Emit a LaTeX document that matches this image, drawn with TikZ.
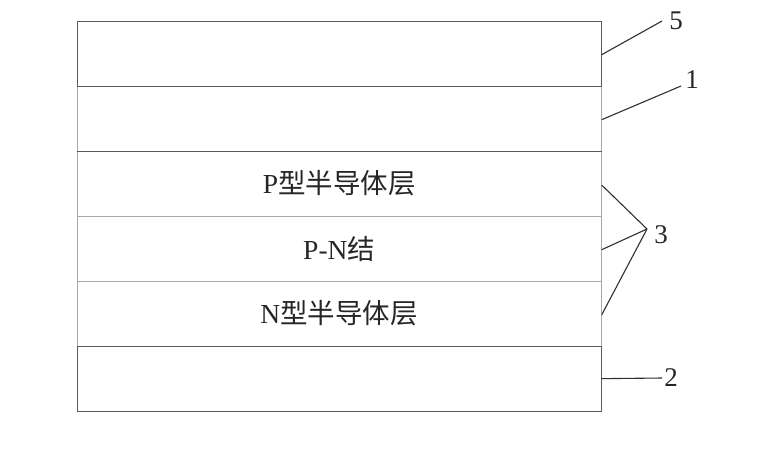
\documentclass[tikz,border=0pt]{standalone}
\usepackage{fontspec}
\setmainfont{Liberation Serif}
\newfontfamily\cjk{Noto Sans CJK SC}
\definecolor{lightline}{HTML}{A8A8A8}
\definecolor{darkline}{HTML}{5A5A5A}
\definecolor{leadcol}{HTML}{303030}
\tikzset{
  layer/.style={draw=lightline, line width=1.3pt, minimum width=524pt, minimum height=65pt,
    inner sep=0pt, anchor=north west, font=\fontsize{27.5}{29}\selectfont, text=black!85},
  darklayer/.style={layer, draw=darkline},
  num/.style={font=\fontsize{27}{29}\selectfont, inner sep=1pt, text=black!85},
  leader/.style={draw=leadcol, line width=1.1pt},
  darkedge/.style={draw=darkline, line width=1.3pt}
}
\begin{document}
\begin{tikzpicture}[x=1pt,y=-1pt]
\useasboundingbox (0,0) rectangle (763,448);
% middle layers (light)
\node[layer] (L1) at (76.5,85.5) {};
\node[layer] (L3a) at (76.5,150.5) {P{\cjk 型半导体层}};
\node[layer] (L3b) at (76.5,215.5) {P-N{\cjk 结}};
\node[layer] (L3c) at (76.5,280.5) {N{\cjk 型半导体层}};
% outer layers (dark)
\node[darklayer] (L5) at (76.5,20.5) {};
\node[darklayer] (L2) at (76.5,345.5) {};
\draw[darkedge] (L1.south west) -- (L1.south east);
% labels
\node[num] (n5) at (676,21) {5};
\node[num] (n1) at (692,80) {1};
\node[num] (n3) at (661,235) {3};
\node[num] (n2) at (671,378) {2};
% leader ends
\coordinate (e5) at (662,21);
\coordinate (e1) at (681,86);
\coordinate (e3) at (647,229);
\coordinate (e2) at (662,378);
\draw[leader] ([yshift=-1pt]L5.east) -- (e5);
\draw[leader] ([yshift=-1pt]L1.east) -- (e1);
\draw[leader] ([yshift=-1.5pt]L3a.east) -- (e3);
\draw[leader] ([yshift=-1pt]L3b.east) -- (e3);
\draw[leader] ([yshift=-1pt]L3c.east) -- (e3);
\draw[leader] (L2.east) -- (e2);
\end{tikzpicture}
\end{document}
